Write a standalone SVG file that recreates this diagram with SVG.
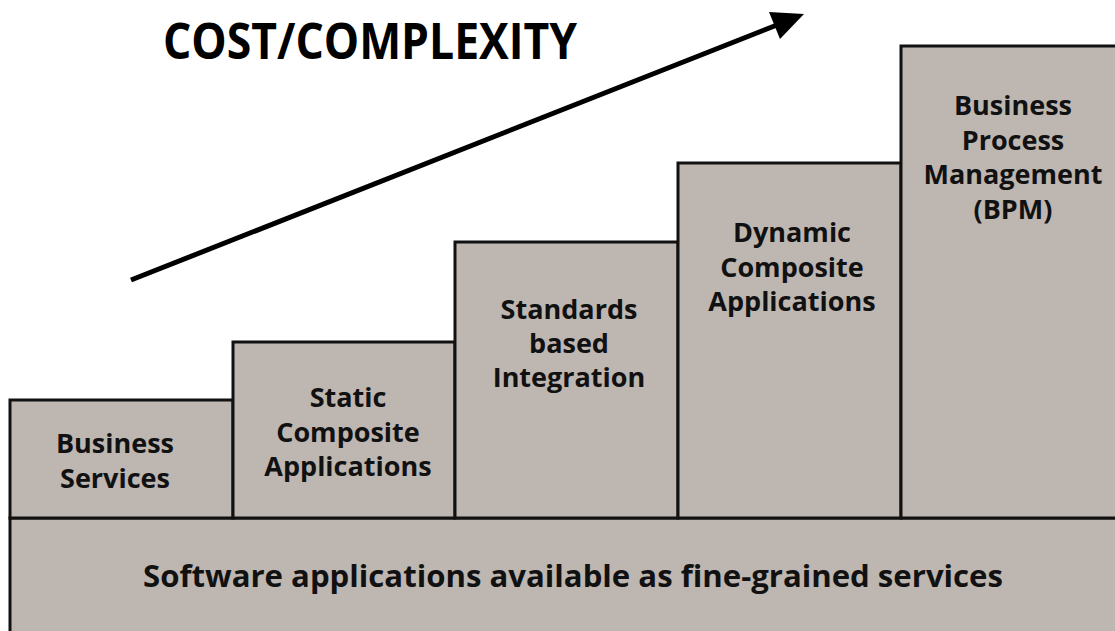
<svg xmlns="http://www.w3.org/2000/svg" width="1115" height="631" viewBox="0 0 1115 631">
<style>
.box{fill:#bdb6b1;stroke:#111;stroke-width:3}
.lbl{font-family:"Open Sans","DejaVu Sans",sans-serif;font-weight:700;font-size:27px;fill:#111;text-anchor:middle}
.base{font-family:"Open Sans","DejaVu Sans",sans-serif;font-weight:700;font-size:30px;fill:#111}
.title{font-family:"Open Sans","DejaVu Sans",sans-serif;font-weight:700;font-size:44px;fill:#000}
</style>
<rect width="1115" height="631" fill="#fff"/>
<text class="title" transform="translate(163,59) scale(1,1.14)" x="0" y="0" textLength="414" lengthAdjust="spacingAndGlyphs">COST/COMPLEXITY</text>
<g id="connectors">
<line x1="131" y1="280" x2="777" y2="25" stroke="#000" stroke-width="5"/>
<polygon points="804,14 780,39 769,12" fill="#000"/>
</g>
<g id="base-layer">
<rect class="box" x="10" y="518" width="1115" height="125"/>
<text class="base" x="143" y="587" textLength="860" lengthAdjust="spacingAndGlyphs">Software applications available as fine-grained services</text>
</g>
<g id="business-services">
<rect class="box" x="10" y="400" width="223" height="118"/>
<text class="lbl" x="115" y="453">Business<tspan x="115" dy="35">Services</tspan></text>
</g>
<g id="static-composite">
<rect class="box" x="233" y="342" width="222" height="176"/>
<text class="lbl" x="348" y="407">Static<tspan x="348" dy="35">Composite</tspan><tspan x="348" dy="34">Applications</tspan></text>
</g>
<g id="standards-integration">
<rect class="box" x="455" y="242" width="223" height="276"/>
<text class="lbl" x="569" y="319">Standards<tspan x="569" dy="34">based</tspan><tspan x="569" dy="34">Integration</tspan></text>
</g>
<g id="dynamic-composite">
<rect class="box" x="678" y="163" width="223" height="355"/>
<text class="lbl" x="792" y="242">Dynamic<tspan x="792" dy="35">Composite</tspan><tspan x="792" dy="34">Applications</tspan></text>
</g>
<g id="bpm">
<rect class="box" x="901" y="46" width="230" height="472"/>
<text class="lbl" x="1013" y="115">Business<tspan x="1013" dy="35">Process</tspan><tspan x="1013" dy="34">Management</tspan><tspan x="1013" dy="35">(BPM)</tspan></text>
</g>
</svg>
